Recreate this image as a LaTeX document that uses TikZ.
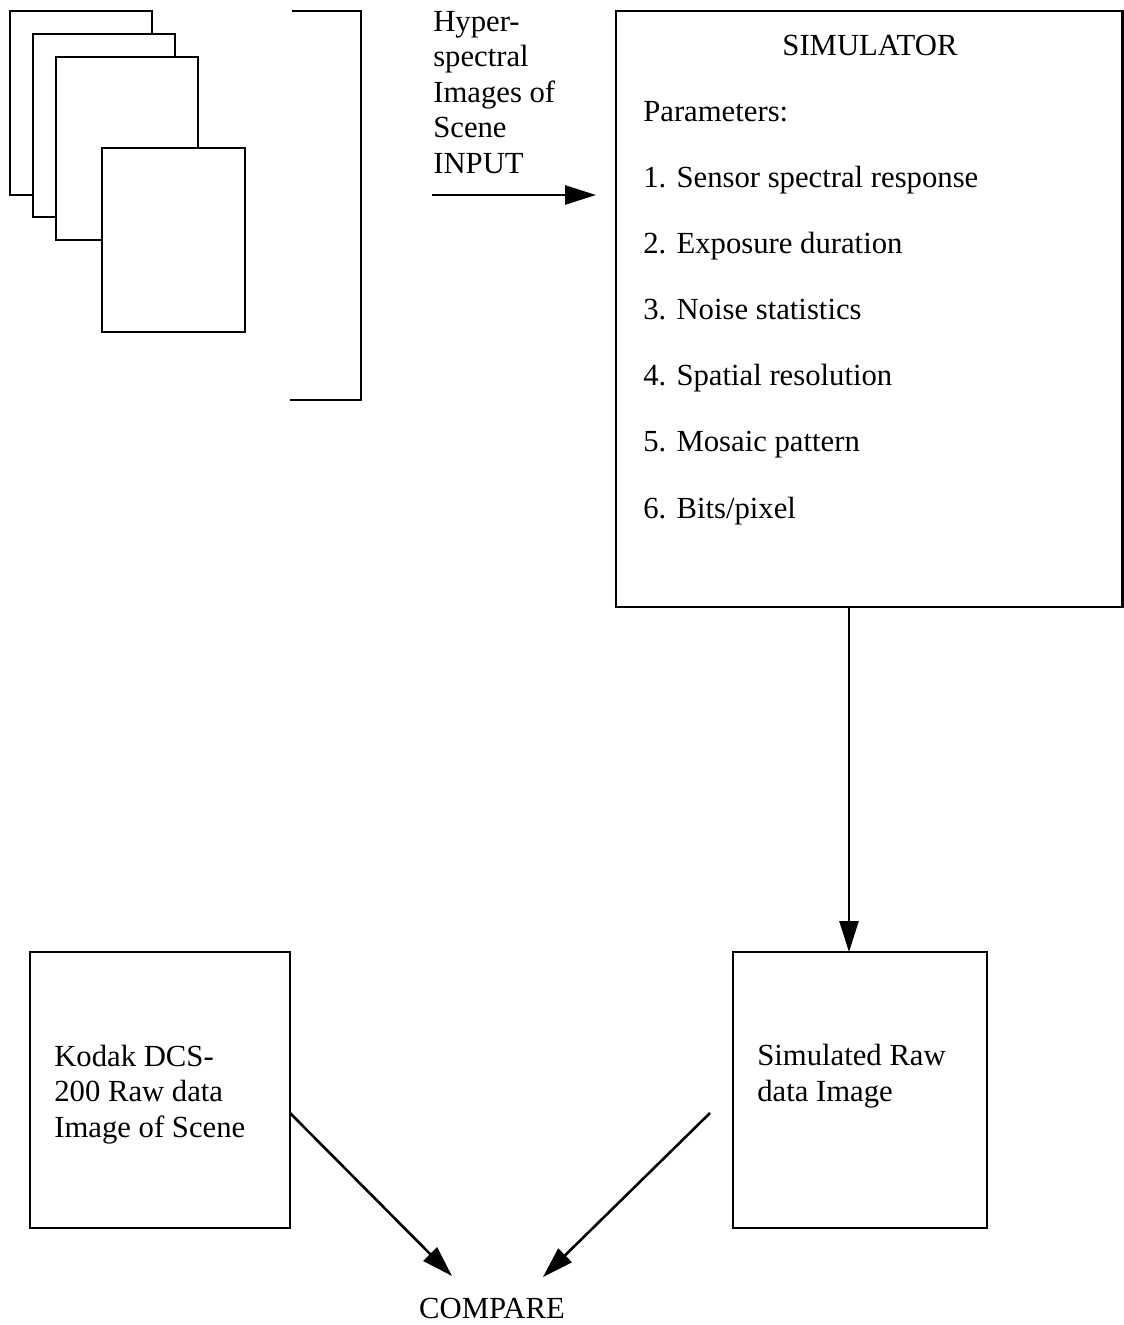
\documentclass[tikz,border=0pt]{standalone}
\usepackage{fontspec}
\setmainfont{Liberation Serif}
\usetikzlibrary{arrows.meta}
\begin{document}
\begin{tikzpicture}[x=1pt,y=-1pt,
  line width=2.6pt,
  page/.style={draw,fill=white},
  box/.style={draw},
  txt/.style={inner sep=0pt,anchor=base west,align=left,font=\fontsize{30.7}{35.5}\selectfont},
  arr/.style={-{Triangle[length=31pt,width=19pt]}}]
\useasboundingbox (0,0) rectangle (1124,1325);
% stacked pages
\draw[page] (10,11) rectangle (152,195);
\draw[page] (33,34) rectangle (175,217);
\draw[page] (56,57) rectangle (198,240);
\draw[page] (102,148) rectangle (245,332);
% bracket
\draw (292,11) -- (361,11) -- (361,400) -- (290,400);
% input text (base anchor = last line baseline)
\node[txt] (input) at (432,173) {Hyper-\\spectral\\Images of\\Scene\\INPUT};
\coordinate (inA) at (432,195);
\coordinate (inB) at (596,195);
\draw[arr] (inA) -- (inB);
% simulator
\draw[box] (616,11) rectangle (1122.5,607);
\node[inner sep=0pt,anchor=base,font=\fontsize{30.7}{35.5}\selectfont] (simt) at (870,55) {SIMULATOR};
\node[txt] (par) at (642,121) {Parameters:};
\node[txt] (p1) at (642,187) {1. Sensor spectral response};
\node[txt] (p2) at (642,253) {2. Exposure duration};
\node[txt] (p3) at (642,319) {3. Noise statistics};
\node[txt] (p4) at (642,385) {4. Spatial resolution};
\node[txt] (p5) at (642,451) {5. Mosaic pattern};
\node[txt] (p6) at (642,518) {6. Bits/pixel};
\coordinate (simB) at (849,607);
% bottom boxes
\draw[box] (30,952) rectangle (290,1228);
\node[txt] (kod) at (53,1137) {Kodak DCS-\\200 Raw data\\Image of Scene};
\draw[box] (733,952) rectangle (987,1228);
\node[txt] (sim) at (756,1101) {Simulated Raw\\data Image};
\coordinate (simT) at (849,952);
\draw[arr] (simB) -- (simT);
% compare
\node[inner sep=0pt,anchor=base,font=\fontsize{30.7}{35.5}\selectfont] (cmp) at (492,1318) {COMPARE};
\coordinate (kE) at (290,1113);
\coordinate (kT) at (452,1276);
\coordinate (sW) at (710,1113);
\coordinate (sT) at (543,1277);
\draw[arr] (kE) -- (kT);
\draw[arr] (sW) -- (sT);
\end{tikzpicture}
\end{document}
